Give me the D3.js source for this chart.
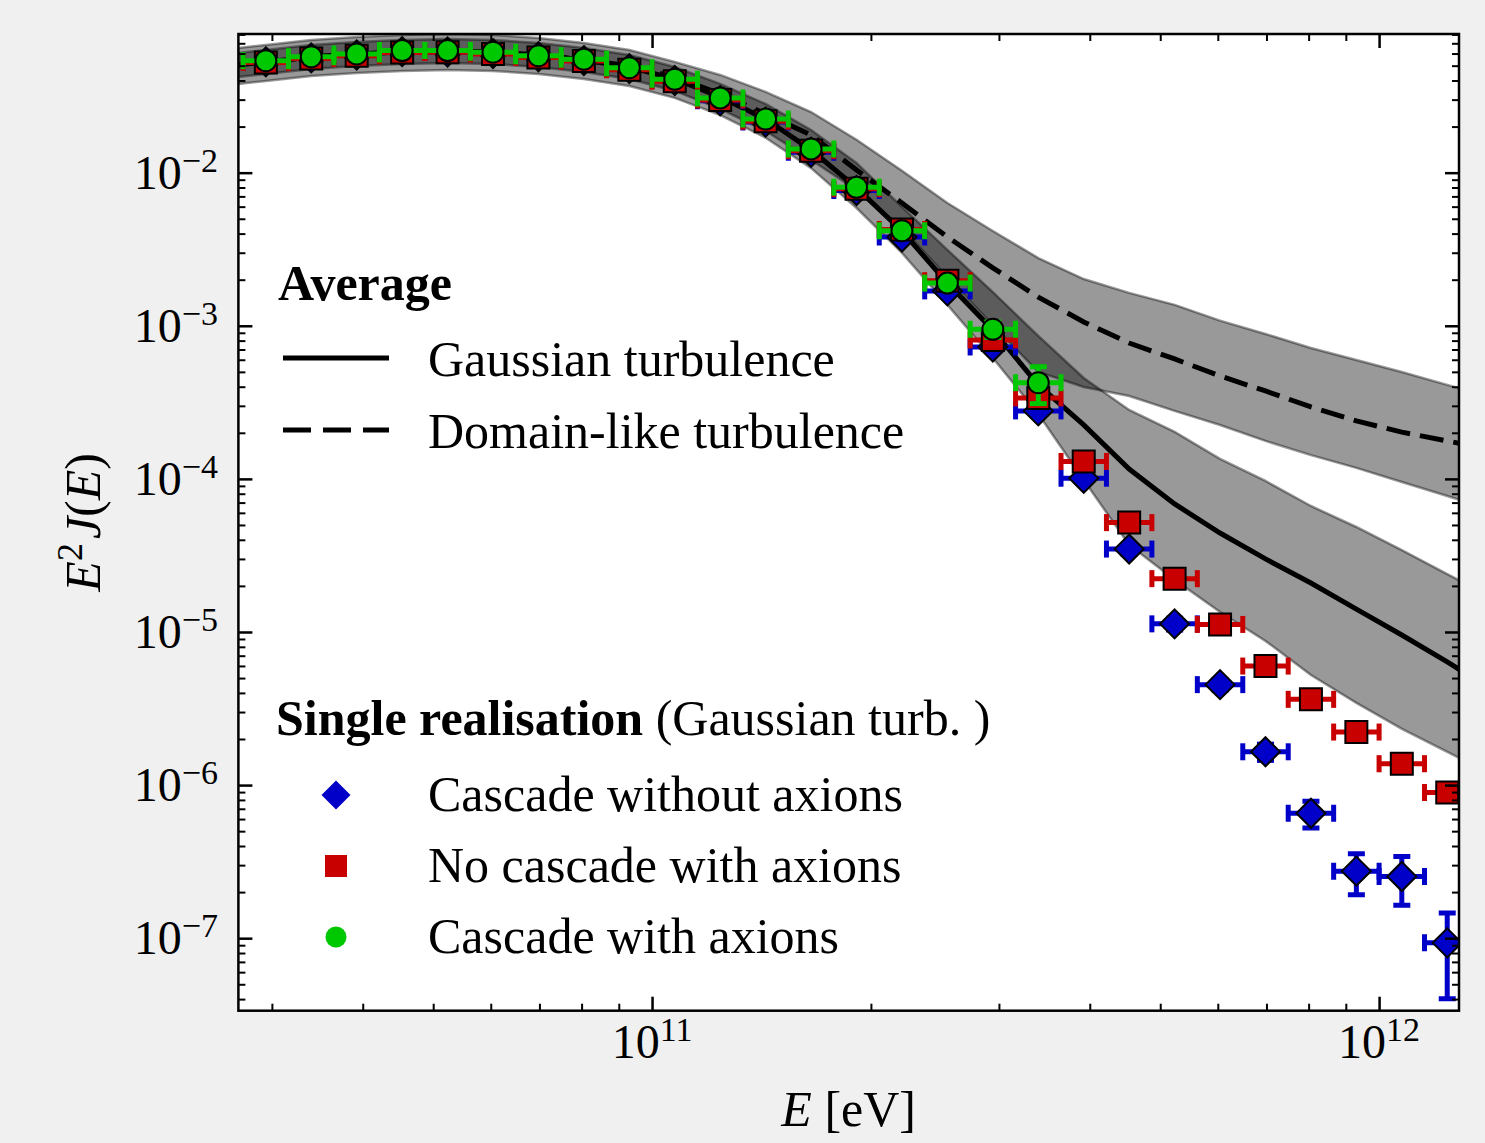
<!DOCTYPE html>
<html>
<head>
<meta charset="utf-8">
<script src="https://cdn.jsdelivr.net/npm/d3@7"></script>
<style>
  html, body { margin: 0; padding: 0; background: #f0f0f0; }
  svg { display: block; font-family: "Liberation Serif", "Times New Roman", serif; }
</style>
</head>
<body>
<svg id="chart" width="1485" height="1143"></svg>
<script>
// ── data ────────────────────────────────────────────────────────
// energy bin centres [eV], 16 bins per decade
const energy = [
  2.548e10, 2.943e10, 3.398e10, 3.924e10, 4.532e10, 5.233e10, 6.043e10, 6.978e10, 8.058e10, 9.306e10,
  1.0746e11, 1.2409e11, 1.433e11, 1.6548e11, 1.911e11, 2.2067e11, 2.5483e11, 2.9427e11, 3.3982e11, 3.9242e11,
  4.5316e11, 5.233e11, 6.043e11, 6.9783e11, 8.0584e11, 9.3057e11, 1.0746e12, 1.2409e12, 1.433e12,
];
const BIN_WIDTH_DEX = 1 / 16;

// averages (Gaussian turbulence) with band
const gaussMean = [
  0.049, 0.0529, 0.057, 0.0596, 0.0614, 0.0624, 0.0614, 0.0587, 0.0545, 0.049,
  0.0409, 0.0312, 0.0224, 0.0141, 0.00795, 0.00416, 0.0019, 9.39e-4, 4.11e-4, 2.25e-4,
  1.16e-4, 6.86e-5, 4.43e-5, 3.0e-5, 2.09e-5, 1.41e-5, 9.56e-6, 6.37e-6, 4.18e-6,
];
const gaussUpper = [
  0.0587, 0.0633, 0.0683, 0.0714, 0.0736, 0.0747, 0.0736, 0.0703, 0.0653, 0.0587,
  0.049, 0.038, 0.0281, 0.019, 0.01157, 0.00597, 0.00313, 0.00166, 8.58e-4, 4.56e-4,
  2.82e-4, 2.03e-4, 1.35e-4, 9.69e-5, 6.65e-5, 4.85e-5, 3.43e-5, 2.39e-5, 1.67e-5,
];
const gaussLower = [
  0.0368, 0.0397, 0.0428, 0.0448, 0.0462, 0.0469, 0.0462, 0.0441, 0.0409, 0.0368,
  0.0308, 0.0238, 0.0169, 0.0107, 0.00588, 0.00299, 0.00137, 6.16e-4, 2.65e-4, 9.83e-5,
  3.7e-5, 2.19e-5, 1.35e-5, 8.74e-6, 5.24e-6, 3.44e-6, 2.33e-6, 1.65e-6, 1.16e-6,
];

// averages (domain-like turbulence) with band
const domainMean = [
  0.049, 0.0529, 0.057, 0.0596, 0.0614, 0.0624, 0.0614, 0.0587, 0.0545, 0.0498,
  0.0422, 0.0327, 0.0242, 0.0176, 0.0104, 0.00634, 0.0038, 0.00239, 0.00154, 0.00106,
  7.72e-4, 6.07e-4, 4.7e-4, 3.75e-4, 2.95e-4, 2.39e-4, 2.02e-4, 1.77e-4, 1.54e-4,
];
const domainUpper = [
  0.0633, 0.0683, 0.0736, 0.077, 0.0793, 0.0805, 0.0793, 0.0758, 0.0703, 0.0633,
  0.0529, 0.0435, 0.0337, 0.0249, 0.0164, 0.0103, 0.00634, 0.00416, 0.00277, 0.00202,
  0.00164, 0.00137, 0.00108, 8.84e-4, 7.16e-4, 5.98e-4, 4.99e-4, 4.11e-4, 3.38e-4,
];
const domainLower = [
  0.0409, 0.0441, 0.0476, 0.0498, 0.0513, 0.0521, 0.0513, 0.049, 0.0455, 0.0409,
  0.0342, 0.0261, 0.0187, 0.0121, 0.00771, 0.00435, 0.00208, 0.00101, 4.99e-4, 3.98e-4,
  3.48e-4, 2.78e-4, 2.25e-4, 1.77e-4, 1.43e-4, 1.18e-4, 9.55e-5, 7.73e-5, 6.27e-5,
];

// single realisation (Gaussian turb.)
const pointEnergy = energy.slice(1, 28);
const noAxionVals = [
  0.053, 0.0562, 0.0587, 0.0617, 0.0614, 0.06, 0.0572, 0.054, 0.0478, 0.04,
  0.0295, 0.0214, 0.0136, 0.00765, 0.0038, 0.00169, 7.27e-4, 2.78e-4, 1.01e-4, 3.48e-5,
  1.13e-5, 4.53e-6, 1.65e-6, 6.55e-7, 2.74e-7, 2.53e-7, 9.32e-8,
];
const noAxionErr = [
  5e-4, 5e-4, 5e-4, 6e-4, 6e-4, 6e-4, 6e-4, 5e-4, 5e-4, 4e-4,
  4e-4, 3e-4, 2.5e-4, 1.8e-4, 1.1e-4, 6e-5, 3e-5, 1.5e-5, 6e-6, 2.5e-6,
  1e-6, 3.6e-7, 2e-7, 1.3e-7, 8.2e-8, 8.9e-8, 5.3e-8,
];
const noCascadeVals = [
  0.0525, 0.0556, 0.058, 0.061, 0.0611, 0.0597, 0.0566, 0.0536, 0.0471, 0.0396,
  0.0298, 0.0217, 0.0139, 0.00785, 0.00425, 0.00197, 8.08e-4, 3.38e-4, 1.3e-4, 5.18e-5,
  2.23e-5, 1.12e-5, 5.99e-6, 3.63e-6, 2.22e-6, 1.38e-6, 8.93e-7,
];
const noCascadeErr = [
  5e-4, 5e-4, 5e-4, 6e-4, 6e-4, 6e-4, 6e-4, 5e-4, 5e-4, 4e-4,
  4e-4, 3e-4, 2e-4, 1.5e-4, 1e-4, 6e-5, 5e-5, 3e-5, 1.2e-5, 5e-6,
  2.2e-6, 1.1e-6, 6e-7, 3.6e-7, 2.2e-7, 1.4e-7, 9e-8,
];
const greenEnergy = energy.slice(1, 19);
const axionVals = [
  0.0539, 0.0572, 0.0596, 0.0627, 0.0627, 0.0612, 0.0581, 0.0551, 0.0485, 0.0408,
  0.0308, 0.0224, 0.0143, 0.00803, 0.00418, 0.0019, 9.49e-4, 4.25e-4,
];
const axionErr = [
  5e-4, 5e-4, 5e-4, 6e-4, 6e-4, 6e-4, 6e-4, 5e-4, 5e-4, 4e-4,
  4e-4, 3e-4, 2.5e-4, 2e-4, 1.7e-4, 1.3e-4, 1.1e-4, 1.15e-4,
];

const yMajorTicks = [1e-2, 1e-3, 1e-4, 1e-5, 1e-6, 1e-7];
const xMajorTicks = [1e11, 1e12];

// ── layout ──────────────────────────────────────────────────────
const W = 1485, H = 1143;
const PLOT = { left: 238.4, right: 1459, top: 34, bottom: 1010.7 };
const BLUE = "#0000c8", RED = "#c80000", GREEN = "#00c800";
const CAP = 8.5, ELW = 5;

const svg = d3.select("#chart");
svg.append("rect").attr("width", W).attr("height", H).attr("fill", "#f0f0f0");
svg.append("rect")
  .attr("x", PLOT.left).attr("y", PLOT.top)
  .attr("width", PLOT.right - PLOT.left).attr("height", PLOT.bottom - PLOT.top)
  .attr("fill", "#fff");

const x = d3.scaleLog().domain([2.698e10, 1.288e12]).range([PLOT.left, PLOT.right]);
const y = d3.scaleLog().domain([3.36e-8, 0.0805]).range([PLOT.bottom, PLOT.top]);

svg.append("defs").append("clipPath").attr("id", "plot-clip")
  .append("rect")
  .attr("x", PLOT.left).attr("y", PLOT.top)
  .attr("width", PLOT.right - PLOT.left).attr("height", PLOT.bottom - PLOT.top);

const gData = svg.append("g").attr("clip-path", "url(#plot-clip)");

// ── bands + average lines ───────────────────────────────────────
function drawBand(upper, lower) {
  const area = d3.area()
    .x((d, i) => x(energy[i]))
    .y0((d, i) => y(lower[i]))
    .y1((d, i) => y(upper[i]));
  gData.append("path").datum(upper).attr("d", area)
    .attr("fill", "#000").attr("fill-opacity", 0.4)
    .attr("stroke", "#000").attr("stroke-opacity", 0.4).attr("stroke-width", 2.5);
}
drawBand(domainUpper, domainLower);
drawBand(gaussUpper, gaussLower);

const meanLine = d3.line().x((d, i) => x(energy[i])).y((d) => y(d));
gData.append("path").datum(domainMean).attr("d", meanLine)
  .attr("fill", "none").attr("stroke", "#000").attr("stroke-width", 5)
  .attr("stroke-dasharray", "24,10");
gData.append("path").datum(gaussMean).attr("d", meanLine)
  .attr("fill", "none").attr("stroke", "#000").attr("stroke-width", 5);

// ── markers with error bars ─────────────────────────────────────
function shapePath(shape) {
  if (shape === "diamond") return "M0,-14.5L14.5,0L0,14.5L-14.5,0Z";
  if (shape === "square") return "M-11,-11H11V11H-11Z";
  return d3.symbol(d3.symbolCircle, Math.PI * 10.5 * 10.5)();
}

function drawSeries(energies, values, errors, color, shape) {
  const half = Math.pow(10, BIN_WIDTH_DEX / 2);
  const pts = energies.map((e, i) => ({
    cx: x(e), cy: y(values[i]),
    x0: x(e / half), x1: x(e * half),
    yHi: y(values[i] + errors[i]),
    yLo: y(Math.max(values[i] - errors[i], 1e-12)),
  }));
  const g = gData.append("g").attr("stroke", color).attr("stroke-width", ELW);

  g.selectAll(".hbar").data(pts).join("line")
    .attr("x1", (d) => d.x0).attr("x2", (d) => d.x1)
    .attr("y1", (d) => d.cy).attr("y2", (d) => d.cy);
  g.selectAll(".vbar").data(pts).join("line")
    .attr("x1", (d) => d.cx).attr("x2", (d) => d.cx)
    .attr("y1", (d) => d.yHi).attr("y2", (d) => d.yLo);

  // caps
  pts.forEach((d) => {
    [d.x0, d.x1].forEach((cx) =>
      g.append("line").attr("x1", cx).attr("x2", cx)
        .attr("y1", d.cy - CAP).attr("y2", d.cy + CAP));
    [d.yHi, d.yLo].forEach((cy) =>
      g.append("line").attr("x1", d.cx - CAP).attr("x2", d.cx + CAP)
        .attr("y1", cy).attr("y2", cy));
  });

  gData.append("g").selectAll("path").data(pts).join("path")
    .attr("d", shapePath(shape))
    .attr("transform", (d) => `translate(${d.cx},${d.cy})`)
    .attr("fill", color).attr("stroke", "#000").attr("stroke-width", 2);
}

drawSeries(pointEnergy, noAxionVals, noAxionErr, BLUE, "diamond");
drawSeries(pointEnergy, noCascadeVals, noCascadeErr, RED, "square");
drawSeries(greenEnergy, axionVals, axionErr, GREEN, "circle");

// ── ticks (inward, all four sides) ──────────────────────────────
const xMinor = x.ticks().filter((t) => !xMajorTicks.includes(t));
const yMinor = y.ticks().filter((t) => !yMajorTicks.some((m) => Math.abs(t / m - 1) < 1e-6));

function tickAxis(axisFn, scale, values, size, width, translate) {
  svg.append("g").attr("transform", `translate(${translate})`)
    .call(axisFn(scale).tickValues(values).tickSize(-size).tickSizeOuter(0).tickFormat(""))
    .call((g) => {
      g.select(".domain").remove();
      g.selectAll("text").remove();
      g.selectAll("line").attr("stroke", "#000").attr("stroke-width", width);
    });
}
tickAxis(d3.axisBottom, x, xMajorTicks, 14, 2.5, `0,${PLOT.bottom}`);
tickAxis(d3.axisBottom, x, xMinor, 7, 2, `0,${PLOT.bottom}`);
tickAxis(d3.axisTop, x, xMajorTicks, 14, 2.5, `0,${PLOT.top}`);
tickAxis(d3.axisTop, x, xMinor, 7, 2, `0,${PLOT.top}`);
tickAxis(d3.axisLeft, y, yMajorTicks, 14, 2.5, `${PLOT.left},0`);
tickAxis(d3.axisLeft, y, yMinor, 7, 2, `${PLOT.left},0`);
tickAxis(d3.axisRight, y, yMajorTicks, 14, 2.5, `${PLOT.right},0`);
tickAxis(d3.axisRight, y, yMinor, 7, 2, `${PLOT.right},0`);

// frame
svg.append("rect")
  .attr("x", PLOT.left).attr("y", PLOT.top)
  .attr("width", PLOT.right - PLOT.left).attr("height", PLOT.bottom - PLOT.top)
  .attr("fill", "none").attr("stroke", "#000").attr("stroke-width", 2.5);

// tick labels 10^n
yMajorTicks.forEach((v) => {
  const t = svg.append("text")
    .attr("x", 218).attr("y", y(v) + 16)
    .attr("text-anchor", "end").attr("font-size", 48);
  t.append("tspan").text("10");
  t.append("tspan").attr("font-size", 34).attr("dy", -17)
    .text("\u2212" + Math.round(-Math.log10(v)));
});
xMajorTicks.forEach((v) => {
  const t = svg.append("text")
    .attr("x", x(v)).attr("y", 1058)
    .attr("text-anchor", "middle").attr("font-size", 48);
  t.append("tspan").text("10");
  t.append("tspan").attr("font-size", 34).attr("dy", -17)
    .text(Math.round(Math.log10(v)));
});

// axis labels
const xl = svg.append("text")
  .attr("x", (PLOT.left + PLOT.right) / 2).attr("y", 1126)
  .attr("text-anchor", "middle").attr("font-size", 50);
xl.append("tspan").attr("font-style", "italic").text("E");
xl.append("tspan").text(" [eV]");

const yl = svg.append("text")
  .attr("transform", `translate(100,${(PLOT.top + PLOT.bottom) / 2}) rotate(-90)`)
  .attr("text-anchor", "middle").attr("font-size", 50);
yl.append("tspan").attr("font-style", "italic").text("E");
yl.append("tspan").attr("font-size", 36).attr("dy", -18).text("2");
yl.append("tspan").attr("font-style", "italic").attr("dy", 18).attr("dx", 4).text("J");
yl.append("tspan").text("(");
yl.append("tspan").attr("font-style", "italic").text("E");
yl.append("tspan").text(")");

// ── legend ──────────────────────────────────────────────────────
const legend = svg.append("g").attr("font-size", 50);
legend.append("text").attr("x", 278).attr("y", 300).attr("font-weight", "bold").text("Average");

legend.append("line").attr("x1", 283).attr("x2", 389).attr("y1", 358).attr("y2", 358)
  .attr("stroke", "#000").attr("stroke-width", 5);
legend.append("text").attr("x", 428).attr("y", 376).text("Gaussian turbulence");
legend.append("line").attr("x1", 283).attr("x2", 389).attr("y1", 430).attr("y2", 430)
  .attr("stroke", "#000").attr("stroke-width", 5).attr("stroke-dasharray", "28,12");
legend.append("text").attr("x", 428).attr("y", 448).text("Domain-like turbulence");

const sr = legend.append("text").attr("x", 276).attr("y", 735);
sr.append("tspan").attr("font-weight", "bold").text("Single realisation");
sr.append("tspan").text(" (Gaussian turb. )");

const legendItems = [
  { shape: "diamond", color: BLUE, label: "Cascade without axions", y: 795 },
  { shape: "square", color: RED, label: "No cascade with axions", y: 866 },
  { shape: "circle", color: GREEN, label: "Cascade with axions", y: 937 },
];
legendItems.forEach((it) => {
  legend.append("path").attr("d", shapePath(it.shape))
    .attr("transform", `translate(336,${it.y})`).attr("fill", it.color);
  legend.append("text").attr("x", 428).attr("y", it.y + 16).text(it.label);
});
</script>
</body>
</html>
